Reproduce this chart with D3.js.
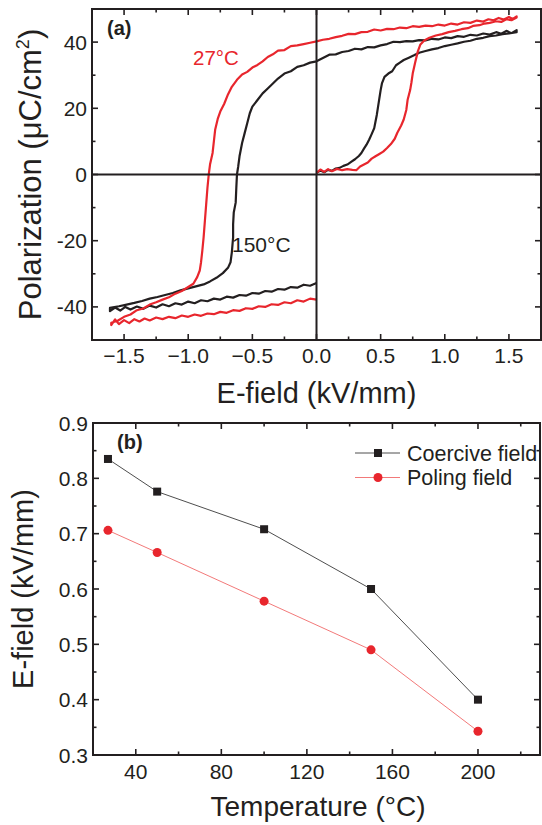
<!DOCTYPE html>
<html>
<head>
<meta charset="utf-8">
<script src="https://cdn.jsdelivr.net/npm/d3@7"></script>
<style>
  body { margin: 0; background: #fff; }
  svg text { font-family: "Liberation Sans", Arial, sans-serif; fill: #231f20; }
</style>
</head>
<body>
<div id="canvas"></div>
<script>

// ---- panel (a) : P-E loops, [E (kV/mm), P (uC/cm2)] ----
var loop150 = [
  [0,0.5],[0.03,1.2],[0.06,0.7],[0.09,1.4],[0.12,1.1],[0.15,1.8],[0.18,2.0],[0.21,2.6],[0.24,3.0],[0.27,3.8],
  [0.30,4.6],[0.33,5.6],[0.35,6.5],[0.37,7.8],[0.39,9.0],[0.41,10.5],[0.43,12.2],[0.45,14.0],[0.46,16.0],[0.47,18.0],
  [0.48,20.5],[0.49,23.0],[0.50,25.5],[0.51,27.5],[0.53,29.5],[0.56,30.5],[0.59,31.2],[0.62,33.0],[0.65,33.8],[0.68,34.6],
  [0.72,35.3],[0.76,36.0],[0.80,36.8],[0.85,37.3],[0.90,37.8],[0.95,38.2],[1.00,38.8],[1.05,39.2],[1.10,39.6],[1.15,40.1],
  [1.20,40.4],[1.25,41.0],[1.30,41.3],[1.35,41.8],[1.40,42.0],[1.45,42.4],[1.50,42.6],[1.56,43.0],
  [1.56,43.6],[1.52,42.7],[1.48,43.4],[1.44,42.5],[1.40,43.0],[1.35,42.3],[1.30,42.6],[1.25,42.0],[1.20,42.2],[1.15,41.6],
  [1.10,41.8],[1.05,41.2],[1.00,41.4],[0.95,40.8],[0.90,41.0],[0.85,40.5],[0.80,40.6],[0.75,40.2],[0.70,40.3],[0.65,40.0],
  [0.60,40.1],[0.55,39.4],[0.50,39.0],[0.45,38.4],[0.40,38.5],[0.35,37.8],[0.30,38.0],[0.25,37.3],[0.20,37.0],[0.15,36.3],
  [0.10,36.2],[0.05,35.2],[0.0,34.2],[-0.05,33.8],[-0.10,33.0],[-0.15,32.5],[-0.20,31.2],[-0.25,30.5],[-0.30,29.0],[-0.34,27.5],
  [-0.38,26.0],[-0.42,24.5],[-0.46,22.5],[-0.50,20.5],[-0.52,18.5],[-0.54,15.5],[-0.56,12.5],[-0.58,9.5],[-0.60,5.5],[-0.61,2.5],
  [-0.62,0.0],[-0.625,-4.0],[-0.63,-8.5],[-0.645,-11.5],[-0.65,-15.0],[-0.65,-19.0],[-0.66,-23.5],[-0.67,-26.5],[-0.69,-28.2],[-0.73,-29.8],
  [-0.78,-31.2],[-0.83,-32.3],[-0.88,-33.2],[-0.94,-33.8],[-1.00,-34.4],[-1.06,-35.0],[-1.12,-35.8],[-1.18,-36.4],[-1.24,-37.0],[-1.30,-37.5],
  [-1.36,-38.2],[-1.42,-38.8],[-1.48,-39.3],[-1.54,-39.8],[-1.61,-40.3],
  [-1.61,-41.3],[-1.57,-40.2],[-1.53,-41.1],[-1.49,-40.0],[-1.45,-40.8],[-1.40,-39.9],[-1.35,-40.6],[-1.30,-39.6],[-1.25,-40.2],[-1.20,-39.2],
  [-1.15,-39.8],[-1.10,-38.9],[-1.05,-39.3],[-1.00,-38.4],[-0.95,-38.9],[-0.90,-38.0],[-0.85,-38.3],[-0.80,-37.5],[-0.75,-37.8],[-0.70,-36.9],
  [-0.65,-37.2],[-0.60,-36.4],[-0.55,-36.6],[-0.50,-35.8],[-0.45,-36.0],[-0.40,-35.2],[-0.35,-35.4],[-0.30,-34.6],[-0.25,-34.8],[-0.20,-34.0],
  [-0.15,-34.2],[-0.10,-33.3],[-0.05,-33.6],[0.0,-32.8]
];

var loop27 = [
  [0,0.5],[0.03,1.5],[0.06,0.8],[0.09,1.6],[0.12,1.0],[0.16,1.7],[0.20,1.3],[0.24,1.6],[0.28,1.4],[0.31,1.3],
  [0.34,2.4],[0.37,3.0],[0.40,3.6],[0.43,4.8],[0.46,5.5],[0.49,6.2],[0.52,6.9],[0.55,8.0],[0.58,9.2],[0.61,10.8],
  [0.63,12.6],[0.66,14.8],[0.68,16.6],[0.70,19.5],[0.71,22.5],[0.73,25.5],[0.74,27.8],[0.75,30.5],[0.77,34.0],[0.79,37.2],
  [0.81,39.3],[0.84,40.5],[0.88,41.3],[0.93,42.0],[0.98,42.4],[1.03,43.0],[1.08,43.4],[1.13,43.9],[1.18,44.2],[1.22,44.9],
  [1.27,45.1],[1.31,45.6],[1.35,45.8],[1.40,46.3],[1.44,46.1],[1.48,46.9],[1.52,46.6],[1.56,47.4],
  [1.56,47.8],[1.53,47.0],[1.50,47.6],[1.46,46.8],[1.42,47.3],[1.38,46.6],[1.34,46.9],[1.30,46.2],[1.25,46.5],[1.20,45.8],
  [1.15,46.0],[1.10,45.3],[1.05,45.6],[1.00,45.0],[0.95,45.3],[0.90,44.8],[0.85,45.0],[0.80,44.6],[0.75,44.8],[0.70,44.2],
  [0.65,44.4],[0.60,43.9],[0.55,44.0],[0.50,43.5],[0.45,43.8],[0.40,43.1],[0.35,43.0],[0.30,42.4],[0.25,42.5],[0.20,41.9],
  [0.15,41.5],[0.10,41.0],[0.05,40.7],[0.0,40.2],[-0.05,39.8],[-0.10,39.4],[-0.15,39.0],[-0.20,38.8],[-0.25,37.6],[-0.30,37.4],
  [-0.34,36.3],[-0.38,35.5],[-0.42,34.2],[-0.46,33.1],[-0.50,32.3],[-0.54,31.0],[-0.58,30.2],[-0.62,28.6],[-0.66,26.5],[-0.69,24.2],
  [-0.72,21.3],[-0.75,19.0],[-0.77,16.8],[-0.79,13.5],[-0.80,10.0],[-0.81,6.5],[-0.83,3.0],[-0.84,0.0],[-0.85,-4.0],[-0.86,-9.0],
  [-0.87,-14.0],[-0.88,-19.0],[-0.89,-23.0],[-0.90,-26.5],[-0.91,-29.0],[-0.93,-31.0],[-0.96,-33.0],[-1.00,-34.0],[-1.05,-35.2],[-1.10,-36.0],
  [-1.15,-37.1],[-1.20,-37.8],[-1.25,-38.6],[-1.30,-39.3],[-1.35,-40.5],[-1.40,-41.0],[-1.45,-42.3],[-1.50,-43.0],[-1.55,-44.2],[-1.60,-44.8],
  [-1.60,-45.5],[-1.57,-43.8],[-1.54,-45.2],[-1.50,-44.0],[-1.46,-44.9],[-1.42,-43.7],[-1.38,-44.4],[-1.34,-43.5],[-1.30,-44.1],[-1.25,-43.2],
  [-1.20,-43.7],[-1.15,-43.0],[-1.10,-43.4],[-1.05,-42.6],[-1.00,-43.0],[-0.95,-42.3],[-0.90,-42.7],[-0.85,-42.0],[-0.80,-42.2],[-0.75,-41.5],
  [-0.70,-41.8],[-0.65,-41.0],[-0.60,-41.2],[-0.55,-40.4],[-0.50,-40.6],[-0.45,-39.8],[-0.40,-40.0],[-0.35,-39.2],[-0.30,-39.4],[-0.25,-38.6],
  [-0.20,-38.9],[-0.15,-38.0],[-0.10,-38.4],[-0.05,-37.5],[0.0,-37.8]
];

var xTicksA = [-1.5, -1.0, -0.5, 0.0, 0.5, 1.0, 1.5];
var yTicksA = [-40, -20, 0, 20, 40];

// ---- panel (b) : fields vs temperature ----
var temps = [27, 50, 100, 150, 200];
var coercive = [0.835, 0.776, 0.708, 0.600, 0.400];
var poling = [0.706, 0.666, 0.578, 0.490, 0.343];
var xTicksB = [40, 80, 120, 160, 200];
var yTicksB = [0.3, 0.4, 0.5, 0.6, 0.7, 0.8, 0.9];

var red = "#e8262d";
var ink = "#231f20";

var width = 542, height = 825;
var svg = d3.select("#canvas").append("svg")
            .attr("width", width)
            .attr("height", height);

// inward ticks on all four sides, plus the frame
function frame(g, x, y, xMaj, xMin, yMaj, yMin){
	var x0 = x.range()[0], x1 = x.range()[1];
	var y0 = y.range()[0], y1 = y.range()[1];
	g.append("rect").attr("x", x0).attr("y", y1)
	 .attr("width", x1 - x0).attr("height", y0 - y1)
	 .attr("fill", "none").attr("stroke", ink).attr("stroke-width", 2);
	function tk(vals, len, isX){
		vals.forEach(function(v){
			if(isX){
				var px = x(v);
				g.append("line").attr("x1", px).attr("x2", px).attr("y1", y0).attr("y2", y0 - len).attr("stroke", ink).attr("stroke-width", 1.6);
				g.append("line").attr("x1", px).attr("x2", px).attr("y1", y1).attr("y2", y1 + len).attr("stroke", ink).attr("stroke-width", 1.6);
			} else {
				var py = y(v);
				g.append("line").attr("y1", py).attr("y2", py).attr("x1", x0).attr("x2", x0 + len).attr("stroke", ink).attr("stroke-width", 1.6);
				g.append("line").attr("y1", py).attr("y2", py).attr("x1", x1).attr("x2", x1 - len).attr("stroke", ink).attr("stroke-width", 1.6);
			}
		});
	}
	tk(xMaj, 6, true); tk(xMin, 3.5, true);
	tk(yMaj, 6, false); tk(yMin, 3.5, false);
}

// ================= panel (a) =================
var xA = d3.scaleLinear().domain([-1.75, 1.75]).range([92, 541]);
var yA = d3.scaleLinear().domain([-50, 50]).range([340, 9]);
var gA = svg.append("g");

var lineA = d3.line().x(function(d){ return xA(d[0]); }).y(function(d){ return yA(d[1]); });

gA.append("path").datum(loop150).attr("d", lineA)
  .attr("fill", "none").attr("stroke", ink).attr("stroke-width", 2.2).attr("stroke-linejoin", "round");
gA.append("path").datum(loop27).attr("d", lineA)
  .attr("fill", "none").attr("stroke", red).attr("stroke-width", 2.2).attr("stroke-linejoin", "round");

// zero lines
gA.append("line").attr("x1", xA(0)).attr("x2", xA(0)).attr("y1", yA(50)).attr("y2", yA(-50)).attr("stroke", ink).attr("stroke-width", 2);
gA.append("line").attr("x1", xA(-1.75)).attr("x2", xA(1.75)).attr("y1", yA(0)).attr("y2", yA(0)).attr("stroke", ink).attr("stroke-width", 2);

frame(gA, xA, yA, xTicksA, [-1.25, -0.75, -0.25, 0.25, 0.75, 1.25],
      yTicksA, [-30, -10, 10, 30]);

gA.selectAll(".xl").data(xTicksA).enter().append("text")
  .attr("x", function(d){ return xA(d); }).attr("y", 363)
  .attr("text-anchor", "middle").attr("font-size", 21)
  .text(function(d){ return d3.format(".1f")(d); });
gA.selectAll(".yl").data(yTicksA).enter().append("text")
  .attr("x", 87).attr("y", function(d){ return yA(d) + 7.5; })
  .attr("text-anchor", "end").attr("font-size", 21)
  .text(function(d){ return d; });

gA.append("text").attr("x", xA(0)).attr("y", 403).attr("text-anchor", "middle")
  .attr("font-size", 29).text("E-field (kV/mm)");
gA.append("text").attr("transform", "translate(41," + yA(0) + ") rotate(-90)")
  .attr("text-anchor", "middle").attr("font-size", 31)
  .html('Polarization (\u03bcC/cm<tspan dy="-12" font-size="18">2</tspan><tspan dy="12">)</tspan>');

gA.append("text").attr("x", 107).attr("y", 35).attr("font-size", 20).attr("font-weight", "bold").text("(a)");
gA.append("text").attr("x", 193).attr("y", 65).attr("font-size", 20.5).style("fill", red).text("27\u00b0C");
gA.append("text").attr("x", 232).attr("y", 252).attr("font-size", 21).text("150\u00b0C");

// ================= panel (b) =================
var xB = d3.scaleLinear().domain([20, 229]).range([93, 540]);
var yB = d3.scaleLinear().domain([0.3, 0.9]).range([755, 423]);
var gB = svg.append("g");

svg.append("clipPath").attr("id", "clipB").append("rect")
   .attr("x", 93).attr("y", 423).attr("width", 447).attr("height", 332);

frame(gB, xB, yB, xTicksB, [60, 100, 140, 180, 220],
      yTicksB, [0.35, 0.45, 0.55, 0.65, 0.75, 0.85]);

var coerPts = temps.map(function(t, i){ return [t, coercive[i]]; });
var polPts = temps.map(function(t, i){ return [t, poling[i]]; });
var lineB = d3.line().x(function(d){ return xB(d[0]); }).y(function(d){ return yB(d[1]); });

gB.append("path").datum(coerPts).attr("d", lineB).attr("fill", "none").attr("stroke", "#3a3a3a").attr("stroke-width", 0.9);
gB.append("path").datum(polPts).attr("d", lineB).attr("fill", "none").attr("stroke", "#f06a6a").attr("stroke-width", 0.9);

gB.selectAll(".sq").data(coerPts).enter().append("rect")
  .attr("x", function(d){ return xB(d[0]) - 4; }).attr("y", function(d){ return yB(d[1]) - 4; })
  .attr("width", 8).attr("height", 8).attr("fill", ink);
gB.selectAll(".ci").data(polPts).enter().append("circle")
  .attr("cx", function(d){ return xB(d[0]); }).attr("cy", function(d){ return yB(d[1]); })
  .attr("r", 4.5).attr("fill", red);

gB.selectAll(".xl").data(xTicksB).enter().append("text")
  .attr("x", function(d){ return xB(d); }).attr("y", 779)
  .attr("text-anchor", "middle").attr("font-size", 21).text(function(d){ return d; });
gB.selectAll(".yl").data(yTicksB).enter().append("text")
  .attr("x", 88).attr("y", function(d){ return yB(d) + 7.5; })
  .attr("text-anchor", "end").attr("font-size", 21).text(function(d){ return d3.format(".1f")(d); });

gB.append("text").attr("x", 318).attr("y", 816).attr("text-anchor", "middle")
  .attr("font-size", 28).text("Temperature (\u00b0C)");
gB.append("text").attr("transform", "translate(33," + yB(0.6) + ") rotate(-90)")
  .attr("text-anchor", "middle").attr("font-size", 29).text("E-field (kV/mm)");

gB.append("text").attr("x", 117).attr("y", 449).attr("font-size", 20).attr("font-weight", "bold").text("(b)");

// legend
var legend = [["Coercive field", "#3a3a3a", "sq"], ["Poling field", "#f06a6a", "ci"]];
legend.forEach(function(l, i){
	var ly = 453 + i * 24.5;
	gB.append("line").attr("x1", 355).attr("x2", 400).attr("y1", ly).attr("y2", ly).attr("stroke", l[1]).attr("stroke-width", 0.9);
	if(l[2] == "sq"){
		gB.append("rect").attr("x", 374).attr("y", ly - 4).attr("width", 8).attr("height", 8).attr("fill", ink);
	} else {
		gB.append("circle").attr("cx", 378).attr("cy", ly).attr("r", 4.5).attr("fill", red);
	}
	gB.append("text").attr("x", 407).attr("y", ly + 7.5).attr("font-size", 21.5)
	  .attr("clip-path", "url(#clipB)").text(l[0]);
});

</script>
</body>
</html>
